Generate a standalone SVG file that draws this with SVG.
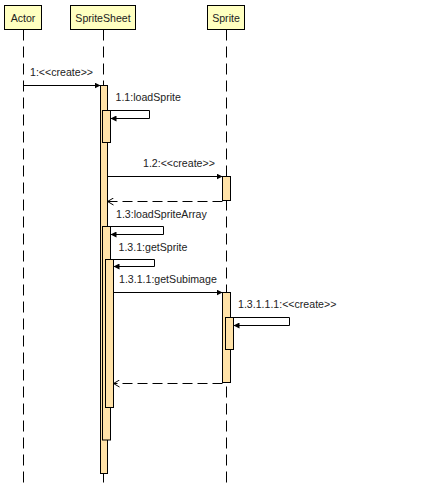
<svg xmlns="http://www.w3.org/2000/svg" width="423" height="484" viewBox="0 0 423 484">
<style>
text{font-family:"Liberation Sans",Arial,sans-serif;font-size:10.6px;fill:#222}
.hdr{fill:#ffffc0;stroke:#000;stroke-width:1}
.life{stroke:#000;stroke-width:1;stroke-dasharray:11 6;fill:none}
.act{fill:#ffe2a8;stroke:#000;stroke-width:1}
.msg{stroke:#000;stroke-width:1;fill:none;marker-end:url(#filled)}
.ret{stroke:#000;stroke-width:1;fill:none;stroke-dasharray:10 5;marker-end:url(#open)}
</style>
<defs>
<marker id="filled" markerUnits="userSpaceOnUse" viewBox="0 0 6 6" refX="6" refY="3" markerWidth="6" markerHeight="6" orient="auto">
<path d="M0,0 L6,3 L0,6 z" fill="#000"/>
</marker>
<marker id="open" markerUnits="userSpaceOnUse" viewBox="0 0 7 8" refX="6.5" refY="4" markerWidth="7" markerHeight="8" orient="auto">
<path d="M0.5,0.5 L6.5,4 L0.5,7.5" fill="none" stroke="#000" stroke-width="1"/>
</marker>
</defs>
<g id="lifelines">
<line class="life" x1="23.5" y1="29.5" x2="23.5" y2="484"/>
<line class="life" x1="103.5" y1="29.5" x2="103.5" y2="484"/>
<line class="life" x1="226.5" y1="29.5" x2="226.5" y2="484"/>
</g>
<g id="actor">
<rect class="hdr" x="4.5" y="5.5" width="37" height="24"/>
<text x="23" y="21.5" text-anchor="middle">Actor</text>
</g>
<g id="spritesheet">
<rect class="hdr" x="70.5" y="5.5" width="65" height="24"/>
<text x="103" y="21.5" text-anchor="middle">SpriteSheet</text>
<rect class="act" x="100.5" y="85.5" width="7" height="388"/>
<rect class="act" x="102.5" y="110.5" width="8" height="32"/>
<rect class="act" x="102.5" y="226.5" width="8" height="213.5"/>
<rect class="act" x="105.5" y="259.5" width="8" height="148"/>
</g>
<g id="sprite">
<rect class="hdr" x="207.5" y="5.5" width="37" height="24"/>
<text x="226" y="21.5" text-anchor="middle">Sprite</text>
<rect class="act" x="222.5" y="176.5" width="8" height="24"/>
<rect class="act" x="222.5" y="292.5" width="8" height="90"/>
<rect class="act" x="225.5" y="317.5" width="8" height="32"/>
</g>
<g id="connectors">
<line class="msg" x1="23.5" y1="85.5" x2="100.5" y2="85.5"/>
<text x="30" y="76">1:&lt;&lt;create&gt;&gt;</text>
<polyline class="msg" points="107.5,110.5 149.5,110.5 149.5,118.5 110.5,118.5"/>
<text x="115.5" y="101">1.1:loadSprite</text>
<line class="msg" x1="107.5" y1="176.5" x2="222.5" y2="176.5"/>
<text x="143" y="166.5">1.2:&lt;&lt;create&gt;&gt;</text>
<line class="ret" x1="222.5" y1="201.5" x2="107.5" y2="201.5"/>
<polyline class="msg" points="107.5,226.5 163.5,226.5 163.5,234.5 110.5,234.5"/>
<text x="116" y="218">1.3:loadSpriteArray</text>
<polyline class="msg" points="110.5,259.5 154.5,259.5 154.5,266.5 113.5,266.5"/>
<text x="118.5" y="250.5">1.3.1:getSprite</text>
<line class="msg" x1="113.5" y1="292.5" x2="222.5" y2="292.5"/>
<text x="119" y="283">1.3.1.1:getSubimage</text>
<polyline class="msg" points="230.5,317.5 289.5,317.5 289.5,325.5 233.5,325.5"/>
<text x="238" y="308">1.3.1.1.1:&lt;&lt;create&gt;&gt;</text>
<line class="ret" x1="222.5" y1="383.5" x2="113.5" y2="383.5"/>
</g>
</svg>
